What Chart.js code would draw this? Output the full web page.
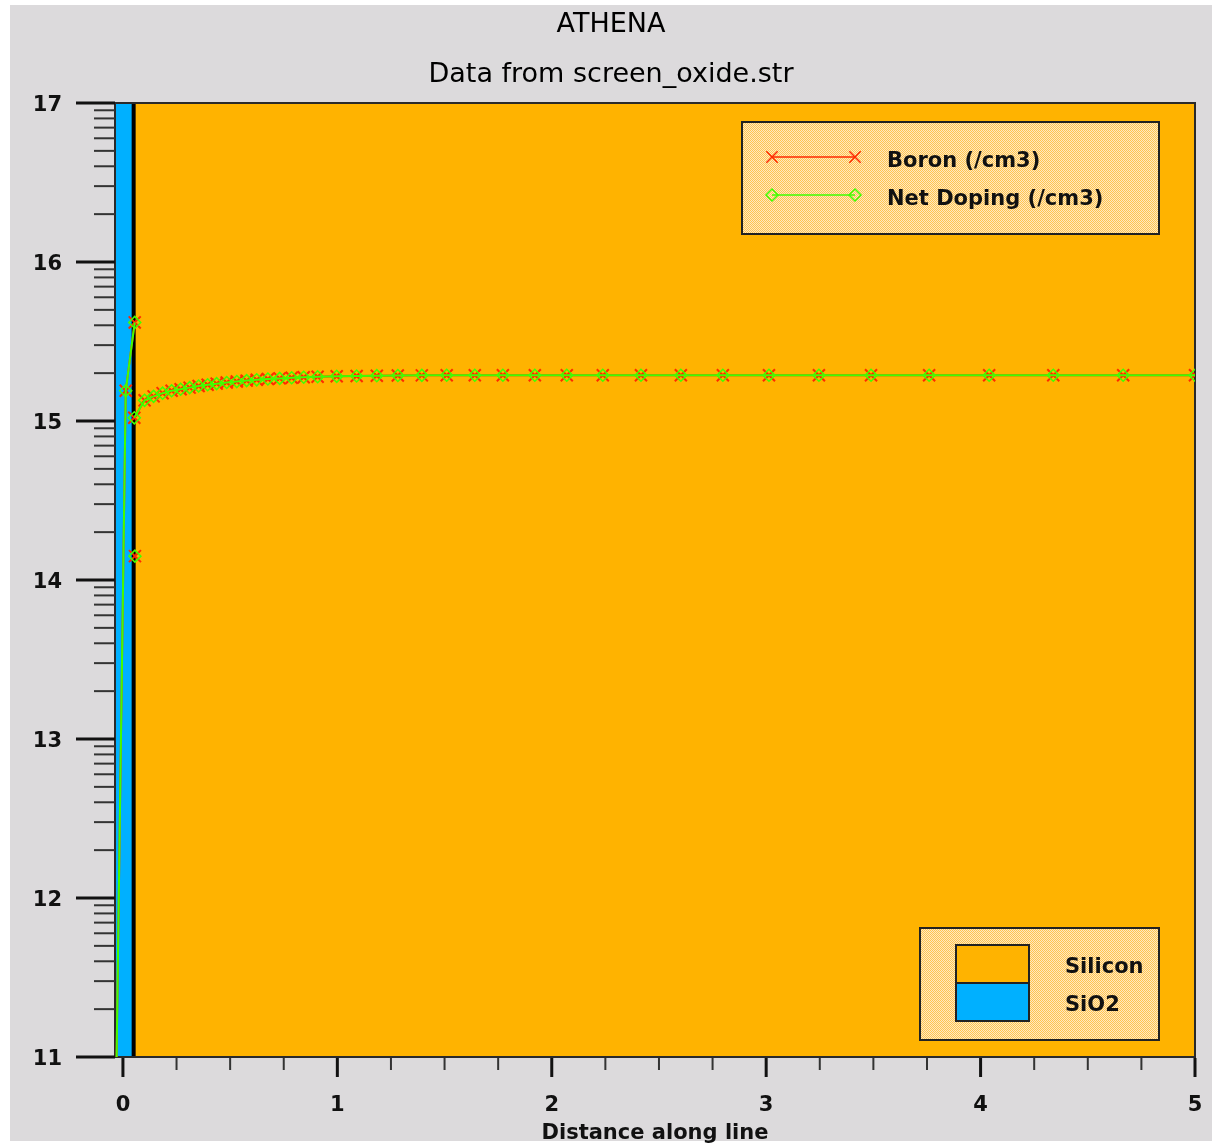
<!DOCTYPE html>
<html>
<head>
<meta charset="utf-8">
<title>ATHENA</title>
<script src="https://cdn.jsdelivr.net/npm/chart.js@4.4.1/dist/chart.umd.min.js"></script>
<style>
  html, body { margin: 0; padding: 0; background: #fff; overflow: hidden; }
  canvas { display: block; }
</style>
</head>
<body>
<canvas id="cutline" width="1212" height="1143"></canvas>
<script>
// cutline data: distance (um) and log10 concentration (/cm3)
const distance = [-0.037, 0.013, 0.055, 0.055, 0.056, 0.056, 0.053,
  0.101, 0.143, 0.185, 0.227, 0.269, 0.311, 0.353, 0.395, 0.437, 0.484,
  0.531, 0.577, 0.624, 0.676, 0.731, 0.787, 0.843, 0.908, 0.997, 1.09,
  1.184, 1.282, 1.394, 1.51, 1.641, 1.772, 1.921, 2.07, 2.238, 2.416,
  2.602, 2.798, 3.013, 3.246, 3.489, 3.76, 4.04, 4.339, 4.665, 5.0];
const boron = [10.27, 15.19, 15.62, null, 14.15, null, 15.02,
  15.13, 15.155, 15.175, 15.19, 15.2, 15.21, 15.22, 15.228, 15.235, 15.242,
  15.248, 15.254, 15.259, 15.264, 15.268, 15.272, 15.275, 15.278, 15.281, 15.283,
  15.285, 15.286, 15.287, 15.288, 15.288, 15.288, 15.288, 15.288, 15.288, 15.288,
  15.288, 15.288, 15.288, 15.288, 15.288, 15.288, 15.288, 15.288, 15.288, 15.288];
const netDoping = [10.27, 15.19, 15.62, null, 14.15, null, 15.02,
  15.13, 15.155, 15.175, 15.19, 15.2, 15.21, 15.22, 15.228, 15.235, 15.242,
  15.248, 15.254, 15.259, 15.264, 15.268, 15.272, 15.275, 15.278, 15.281, 15.283,
  15.285, 15.286, 15.287, 15.288, 15.288, 15.288, 15.288, 15.288, 15.288, 15.288,
  15.288, 15.288, 15.288, 15.288, 15.288, 15.288, 15.288, 15.288, 15.288, 15.288];

const xTickValues = [0, 1, 2, 3, 4, 5];
const yTickValues = [11, 12, 13, 14, 15, 16, 17];
const titleLines = ['ATHENA', 'Data from screen_oxide.str'];
const seriesNames = ['Boron (/cm3)', 'Net Doping (/cm3)'];
const materialNames = ['Silicon', 'SiO2'];
const oxideEnd = 0.05;

const FONT = "'DejaVu Sans', 'Liberation Sans', sans-serif";
const SILICON = '#ffb300';
const OXIDE = '#00b0ff';
const RED = '#ff2a00';
const GREEN = '#40ff00';

Chart.defaults.font.family = FONT;

// light dithered fill used inside the legend boxes
function ditherPattern(ctx) {
  const c = document.createElement('canvas');
  c.width = 2; c.height = 2;
  const g = c.getContext('2d');
  g.fillStyle = '#ffe8c2'; g.fillRect(0, 0, 2, 2);
  g.fillStyle = '#ffc54f'; g.fillRect(0, 0, 1, 1); g.fillRect(1, 1, 1, 1);
  return ctx.createPattern(c, 'repeat');
}

// grey panel and the two heading lines centred on it
const panel = {
  id: 'panel',
  beforeDraw(chart) {
    const { ctx, width, height } = chart;
    ctx.save();
    ctx.fillStyle = '#fff';
    ctx.fillRect(0, 0, width, height);
    ctx.fillStyle = '#dcdadc';
    ctx.fillRect(10, 5, width - 10, height - 7);
    ctx.fillStyle = '#000';
    ctx.font = '27px ' + FONT;
    ctx.textAlign = 'center';
    ctx.textBaseline = 'middle';
    titleLines.forEach((t, i) => ctx.fillText(t, (10 + width) / 2, 25 + i * 50));
    ctx.restore();
  }
};

// silicon / oxide regions behind the profile
const materials = {
  id: 'materials',
  beforeDatasetsDraw(chart) {
    const { ctx, chartArea: a, scales: { x } } = chart;
    const xo = x.getPixelForValue(oxideEnd);
    ctx.save();
    ctx.fillStyle = SILICON;
    ctx.fillRect(a.left, a.top, a.width, a.height);
    ctx.fillStyle = OXIDE;
    ctx.fillRect(a.left, a.top, xo - a.left, a.height);
    ctx.strokeStyle = '#000';
    ctx.lineWidth = 4;
    ctx.beginPath();
    ctx.moveTo(xo, a.top); ctx.lineTo(xo, a.bottom);
    ctx.stroke();
    ctx.strokeStyle = '#2a2a2a';
    ctx.lineWidth = 2;
    ctx.strokeRect(a.left, a.top, a.width, a.height);
    ctx.restore();
  }
};

// major ticks plus log-decade minors on y and quarter minors on x
const axisTicks = {
  id: 'axisTicks',
  afterDraw(chart) {
    const { ctx, chartArea: a, scales: { x, y } } = chart;
    const seg = (x1, y1, x2, y2, w, c) => {
      ctx.strokeStyle = c; ctx.lineWidth = w;
      ctx.beginPath(); ctx.moveTo(x1, y1); ctx.lineTo(x2, y2); ctx.stroke();
    };
    ctx.save();
    yTickValues.forEach((v, i) => {
      const py = y.getPixelForValue(v);
      seg(a.left - 39, py, a.left, py, 3, '#111');
      if (i < yTickValues.length - 1) {
        for (let k = 2; k <= 9; k++) {
          const pm = y.getPixelForValue(v + Math.log10(k));
          seg(a.left - 21, pm, a.left, pm, 2, '#333');
        }
      }
    });
    xTickValues.forEach((v, i) => {
      const px = x.getPixelForValue(v);
      seg(px, a.bottom + 1, px, a.bottom + 20, 3, '#111');
      if (i < xTickValues.length - 1) {
        for (let q = 1; q < 4; q++) {
          const pm = x.getPixelForValue(v + q / 4);
          seg(pm, a.bottom + 1, pm, a.bottom + 13, 2, '#333');
        }
      }
    });
    ctx.restore();
  }
};

const legends = {
  id: 'legends',
  afterDraw(chart) {
    const { ctx, chartArea: a } = chart;
    const fill = ditherPattern(ctx);
    ctx.save();
    ctx.font = 'bold 21px ' + FONT;
    ctx.textBaseline = 'middle';
    ctx.textAlign = 'left';

    // series legend
    let bx = a.right - 453, by = a.top + 19;
    ctx.fillStyle = fill;
    ctx.fillRect(bx, by, 417, 112);
    ctx.strokeStyle = '#222'; ctx.lineWidth = 2;
    ctx.strokeRect(bx, by, 417, 112);
    const rows = [
      { color: RED, style: 'crossRot', radius: 8, y: by + 35 },
      { color: GREEN, style: 'rectRot', radius: 6, y: by + 73 }
    ];
    rows.forEach((r, i) => {
      ctx.strokeStyle = r.color; ctx.lineWidth = 1.5;
      ctx.beginPath(); ctx.moveTo(bx + 30, r.y); ctx.lineTo(bx + 113, r.y); ctx.stroke();
      [bx + 30, bx + 113].forEach(px => {
        ctx.strokeStyle = r.color;
        ctx.fillStyle = 'rgba(0,0,0,0)';
        Chart.helpers.drawPoint(ctx, { pointStyle: r.style, radius: r.radius, borderWidth: 2, rotation: 0 }, px, r.y);
      });
      ctx.fillStyle = '#111';
      ctx.fillText(seriesNames[i], bx + 145, r.y + 5);
    });

    // material legend
    bx = a.right - 275; by = a.bottom - 129;
    ctx.fillStyle = fill;
    ctx.fillRect(bx, by, 239, 112);
    ctx.strokeStyle = '#222'; ctx.lineWidth = 2;
    ctx.strokeRect(bx, by, 239, 112);
    [SILICON, OXIDE].forEach((c, i) => {
      const sy = by + 17 + i * 38;
      ctx.fillStyle = c;
      ctx.fillRect(bx + 36, sy, 73, 38);
      ctx.strokeStyle = '#222'; ctx.lineWidth = 2;
      ctx.strokeRect(bx + 36, sy, 73, 38);
      ctx.fillStyle = '#111';
      ctx.fillText(materialNames[i], bx + 145, sy + 23);
    });
    ctx.restore();
  }
};

const pts = (ys) => distance.map((d, i) => ({ x: d, y: ys[i] }));

new Chart(document.getElementById('cutline'), {
  type: 'line',
  data: {
    datasets: [
      {
        label: seriesNames[0],
        data: pts(boron),
        borderColor: RED,
        borderWidth: 2,
        pointStyle: 'crossRot',
        pointRadius: 8.5,
        pointBorderColor: RED,
        pointBorderWidth: 2,
        pointBackgroundColor: 'rgba(0,0,0,0)',
        clip: 0,
        order: 2
      },
      {
        label: seriesNames[1],
        data: pts(netDoping),
        borderColor: GREEN,
        borderWidth: 2,
        pointStyle: 'rectRot',
        pointRadius: 6,
        pointBorderColor: GREEN,
        pointBorderWidth: 1.5,
        pointBackgroundColor: 'rgba(0,0,0,0)',
        clip: 0,
        order: 1
      }
    ]
  },
  options: {
    responsive: false,
    animation: false,
    layout: { padding: { left: 0, right: 17, top: 103, bottom: 0 } },
    plugins: {
      legend: { display: false },
      tooltip: { enabled: false },
      title: { display: false }
    },
    scales: {
      x: {
        type: 'linear',
        min: -0.037,
        max: 5,
        afterFit: (s) => { s.height = 86; },
        afterBuildTicks: (s) => { s.ticks = xTickValues.map(v => ({ value: v })); },
        grid: { display: false, drawTicks: true, tickLength: 33 },
        border: { display: true, color: '#2a2a2a', width: 2 },
        ticks: {
          padding: 3,
          color: '#111',
          font: { size: 21, weight: 'bold' },
          callback: (v) => String(v),
          maxRotation: 0
        },
        title: {
          display: true,
          text: 'Distance along line',
          color: '#111',
          font: { size: 21, weight: 'bold', lineHeight: 1 },
          padding: { top: 0, bottom: -1 }
        }
      },
      y: {
        type: 'linear',
        min: 11,
        max: 17,
        afterFit: (s) => { s.width = 115; },
        afterBuildTicks: (s) => { s.ticks = yTickValues.map(v => ({ value: v })); },
        grid: { display: false, drawTicks: true, tickLength: 50 },
        border: { display: true, color: '#2a2a2a', width: 2 },
        ticks: {
          padding: 3,
          labelOffset: 3,
          color: '#111',
          font: { size: 21, weight: 'bold' },
          callback: (v) => String(v)
        }
      }
    }
  },
  plugins: [panel, materials, axisTicks, legends]
});
</script>
</body>
</html>
